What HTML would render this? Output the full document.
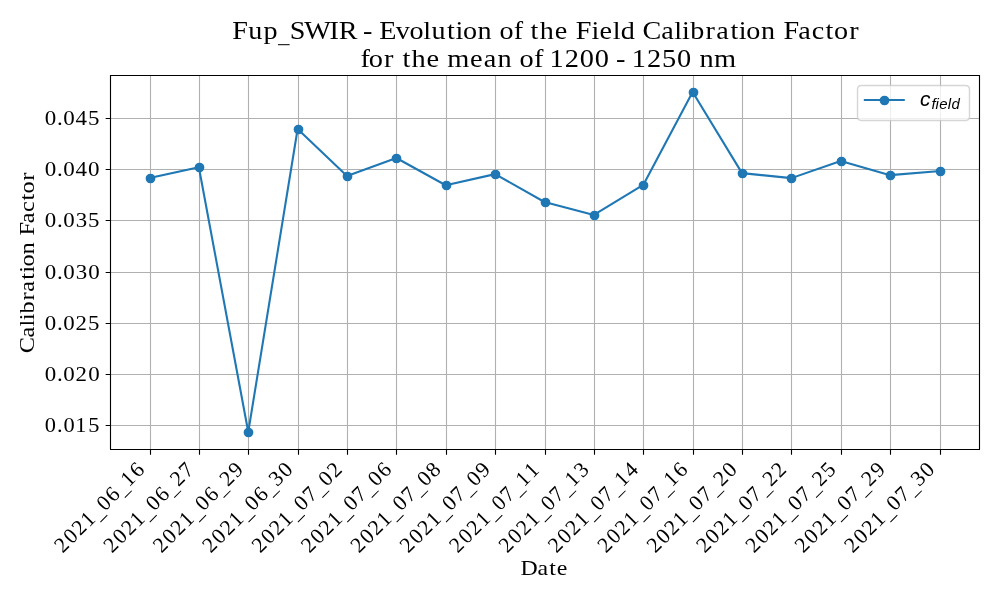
<!DOCTYPE html><html><head><meta charset="utf-8"><style>html,body{margin:0;padding:0;background:#fff;width:1000px;height:600px;overflow:hidden}svg{display:block;will-change:transform}text{font-kerning:none;font-family:"Liberation Serif",serif}</style></head><body>
<svg width="1000" height="600" viewBox="0 0 1000 600">
<rect x="0" y="0" width="1000" height="600" fill="#fff"/>
<path d="M150.5 75V449M199.5 75V449M248.5 75V449M298.5 75V449M347.5 75V449M396.5 75V449M446.5 75V449M495.5 75V449M545.5 75V449M594.5 75V449M643.5 75V449M693.5 75V449M742.5 75V449M791.5 75V449M841.5 75V449M890.5 75V449M940.5 75V449M110 118.5H979M110 169.5H979M110 220.5H979M110 272.5H979M110 323.5H979M110 374.5H979M110 425.5H979" stroke="#b0b0b0" stroke-width="1.111" fill="none"/>
<path d="M149.5 178.025L198.875 167.228L248.25 432L297.625 129.039L347 175.925L396.375 158.031L445.75 185.223L495.125 174.126L544.5 202.018L593.875 214.964L643.25 184.973L692.625 92L742 173.126L791.375 178.125L840.75 160.93L890.125 175.126L939.5 171.127" stroke="#1f77b4" stroke-width="2.083" fill="none" stroke-linejoin="round" stroke-linecap="square"/>
<g fill="#1f77b4" stroke="#1f77b4" stroke-width="1.389"><circle cx="150.5" cy="178.5" r="4.167"/><circle cx="199.5" cy="167.5" r="4.167"/><circle cx="248.5" cy="432.5" r="4.167"/><circle cx="298.5" cy="129.5" r="4.167"/><circle cx="347.5" cy="176.5" r="4.167"/><circle cx="396.5" cy="158.5" r="4.167"/><circle cx="446.5" cy="185.5" r="4.167"/><circle cx="495.5" cy="174.5" r="4.167"/><circle cx="545.5" cy="202.5" r="4.167"/><circle cx="594.5" cy="215.5" r="4.167"/><circle cx="643.5" cy="185.5" r="4.167"/><circle cx="693.5" cy="92.5" r="4.167"/><circle cx="742.5" cy="173.5" r="4.167"/><circle cx="791.5" cy="178.5" r="4.167"/><circle cx="841.5" cy="161.5" r="4.167"/><circle cx="890.5" cy="175.5" r="4.167"/><circle cx="940.5" cy="171.5" r="4.167"/></g>
<path d="M110.5 75V449.5M979.5 75V449.5M110 75.5H980M110 449.5H980" stroke="#000" stroke-width="1.111" fill="none"/>
<path d="M150.5 449.5V454.8M199.5 449.5V454.8M248.5 449.5V454.8M298.5 449.5V454.8M347.5 449.5V454.8M396.5 449.5V454.8M446.5 449.5V454.8M495.5 449.5V454.8M545.5 449.5V454.8M594.5 449.5V454.8M643.5 449.5V454.8M693.5 449.5V454.8M742.5 449.5V454.8M791.5 449.5V454.8M841.5 449.5V454.8M890.5 449.5V454.8M940.5 449.5V454.8M110.5 118.5H105.639M110.5 169.5H105.639M110.5 220.5H105.639M110.5 272.5H105.639M110.5 323.5H105.639M110.5 374.5H105.639M110.5 425.5H105.639" stroke="#000" stroke-width="1.111" fill="none"/>
<path d="M861.389 85.5H965.611Q969.5 85.5 969.5 89.389V116.611Q969.5 120.5 965.611 120.5H861.389Q857.5 120.5 857.5 116.611V89.389Q857.5 85.5 861.389 85.5z" fill="#fff" stroke="#ccc" stroke-width="1.389" opacity="0.8"/>
<path d="M864.843 100H903.732" stroke="#1f77b4" stroke-width="2.083" stroke-linecap="square"/>
<circle cx="884.5" cy="100.5" r="4.167" fill="#1f77b4" stroke="#1f77b4" stroke-width="1.389"/>
<g transform="translate(920.031 106.365)" style="font-family:'Liberation Sans',sans-serif;font-style:italic">
<text style="font-family:inherit" transform="translate(0 -0.217) scale(1.075 1.029)" x="-0.071" font-size="19.444">c</text>
<text style="font-family:inherit" transform="translate(10.691 2.973) scale(1.1 1.043)" x="0.603 4.426 7.79 15.488 18.843" font-size="13.611">field</text>
</g>
<g fill="#000">
<path transform="translate(62.425 554.11) rotate(-45)" d="M49.522 3.724h9.722v0.972h-9.722zM84.085 3.724h9.722v0.972h-9.722z"/><text transform="translate(62.425 554.11) rotate(-45) scale(1.11 1.116)" x="0.462 11.792 22.818 33.707 44.137 54.111 65.2 75.279 84.811 96.341" font-size="19.444" xml:space="preserve">2021 06 16</text>
<path transform="translate(111.8 554.11) rotate(-45)" d="M49.522 3.724h9.722v0.972h-9.722zM84.085 3.724h9.722v0.972h-9.722z"/><text transform="translate(111.8 554.11) rotate(-45) scale(1.12 1.116)" x="0.416 11.646 22.576 33.365 43.707 53.593 64.583 74.574 84.311 95.286" font-size="19.444" xml:space="preserve">2021 06 27</text>
<path transform="translate(161.175 554.11) rotate(-45)" d="M49.522 3.724h9.722v0.972h-9.722zM84.085 3.724h9.722v0.972h-9.722z"/><text transform="translate(161.175 554.11) rotate(-45) scale(1.12 1.116)" x="0.414 11.639 22.566 33.351 43.689 53.571 64.557 74.544 84.277 95.554" font-size="19.444" xml:space="preserve">2021 06 29</text>
<path transform="translate(210.55 554.11) rotate(-45)" d="M49.522 3.724h9.722v0.972h-9.722zM84.085 3.724h9.722v0.972h-9.722z"/><text transform="translate(210.55 554.11) rotate(-45) scale(1.121 1.116)" x="0.411 11.628 22.547 33.325 43.655 53.531 64.509 74.49 84.302 95.434" font-size="19.444" xml:space="preserve">2021 06 30</text>
<path transform="translate(259.925 554.11) rotate(-45)" d="M49.522 3.724h9.722v0.972h-9.722zM84.085 3.724h9.722v0.972h-9.722z"/><text transform="translate(259.925 554.11) rotate(-45) scale(1.12 1.116)" x="0.415 11.641 22.568 33.354 43.693 53.576 64.398 74.551 84.435 95.362" font-size="19.444" xml:space="preserve">2021 07 02</text>
<path transform="translate(309.3 554.11) rotate(-45)" d="M49.522 3.724h9.722v0.972h-9.722zM84.085 3.724h9.722v0.972h-9.722z"/><text transform="translate(309.3 554.11) rotate(-45) scale(1.122 1.116)" x="0.408 11.618 22.531 33.301 43.626 53.496 64.303 74.442 84.312 95.284" font-size="19.444" xml:space="preserve">2021 07 06</text>
<path transform="translate(358.675 554.11) rotate(-45)" d="M49.522 3.724h9.722v0.972h-9.722zM84.085 3.724h9.722v0.972h-9.722z"/><text transform="translate(358.675 554.11) rotate(-45) scale(1.121 1.116)" x="0.408 11.62 22.534 33.306 43.632 53.503 64.311 74.452 84.323 95.385" font-size="19.444" xml:space="preserve">2021 07 08</text>
<path transform="translate(408.05 554.11) rotate(-45)" d="M49.522 3.724h9.722v0.972h-9.722zM84.085 3.724h9.722v0.972h-9.722z"/><text transform="translate(408.05 554.11) rotate(-45) scale(1.122 1.116)" x="0.408 11.618 22.53 33.301 43.626 53.495 64.302 74.441 84.311 95.424" font-size="19.444" xml:space="preserve">2021 07 09</text>
<path transform="translate(457.425 554.11) rotate(-45)" d="M49.522 3.724h9.722v0.972h-9.722zM84.085 3.724h9.722v0.972h-9.722z"/><text transform="translate(457.425 554.11) rotate(-45) scale(1.097 1.116)" x="0.523 11.985 23.139 34.158 44.707 54.796 65.852 76.21 85.856 97.164" font-size="19.444" xml:space="preserve">2021 07 11</text>
<path transform="translate(506.8 554.11) rotate(-45)" d="M49.522 3.724h9.722v0.972h-9.722zM84.085 3.724h9.722v0.972h-9.722z"/><text transform="translate(506.8 554.11) rotate(-45) scale(1.108 1.116)" x="0.47 11.816 22.858 33.763 44.209 54.197 65.138 75.395 84.941 96.514" font-size="19.444" xml:space="preserve">2021 07 13</text>
<path transform="translate(556.175 554.11) rotate(-45)" d="M49.522 3.724h9.722v0.972h-9.722zM84.085 3.724h9.722v0.972h-9.722z"/><text transform="translate(556.175 554.11) rotate(-45) scale(1.111 1.116)" x="0.456 11.774 22.789 33.665 44.084 54.047 64.959 75.192 84.713 96.116" font-size="19.444" xml:space="preserve">2021 07 14</text>
<path transform="translate(605.55 554.11) rotate(-45)" d="M49.522 3.724h9.722v0.972h-9.722zM84.085 3.724h9.722v0.972h-9.722z"/><text transform="translate(605.55 554.11) rotate(-45) scale(1.109 1.116)" x="0.464 11.799 22.83 33.723 44.158 54.136 65.065 75.312 84.849 96.384" font-size="19.444" xml:space="preserve">2021 07 16</text>
<path transform="translate(654.925 554.11) rotate(-45)" d="M49.522 3.724h9.722v0.972h-9.722zM84.085 3.724h9.722v0.972h-9.722z"/><text transform="translate(654.925 554.11) rotate(-45) scale(1.12 1.116)" x="0.415 11.641 22.568 33.354 43.693 53.576 64.398 74.551 84.285 95.511" font-size="19.444" xml:space="preserve">2021 07 20</text>
<path transform="translate(704.3 554.11) rotate(-45)" d="M49.522 3.724h9.722v0.972h-9.722zM84.085 3.724h9.722v0.972h-9.722z"/><text transform="translate(704.3 554.11) rotate(-45) scale(1.118 1.116)" x="0.423 11.669 22.614 33.419 43.775 53.675 64.515 74.685 84.435 95.531" font-size="19.444" xml:space="preserve">2021 07 22</text>
<path transform="translate(753.675 554.11) rotate(-45)" d="M49.522 3.724h9.722v0.972h-9.722zM84.085 3.724h9.722v0.972h-9.722z"/><text transform="translate(753.675 554.11) rotate(-45) scale(1.119 1.116)" x="0.421 11.663 22.604 33.405 43.757 53.653 64.49 74.656 84.403 95.531" font-size="19.444" xml:space="preserve">2021 07 25</text>
<path transform="translate(803.05 554.11) rotate(-45)" d="M49.522 3.724h9.722v0.972h-9.722zM84.085 3.724h9.722v0.972h-9.722z"/><text transform="translate(803.05 554.11) rotate(-45) scale(1.12 1.116)" x="0.416 11.645 22.576 33.365 43.706 53.592 64.417 74.573 84.31 95.591" font-size="19.444" xml:space="preserve">2021 07 29</text>
<path transform="translate(852.425 554.11) rotate(-45)" d="M49.522 3.724h9.722v0.972h-9.722zM84.085 3.724h9.722v0.972h-9.722z"/><text transform="translate(852.425 554.11) rotate(-45) scale(1.121 1.116)" x="0.413 11.634 22.557 33.339 43.673 53.552 64.37 74.519 84.334 95.471" font-size="19.444" xml:space="preserve">2021 07 30</text>
<text transform="translate(100.008 432) scale(1.153 1.116)" x="-47.839 -37.324 -31.702 -21.377 -10.296" font-size="19.444">0.015</text>
<text transform="translate(100.008 381) scale(1.179 1.116)" x="-46.874 -36.54 -31.099 -20.716 -10.061" font-size="19.444">0.020</text>
<text transform="translate(100.008 330) scale(1.177 1.116)" x="-46.975 -36.622 -31.162 -20.755 -10.19" font-size="19.444">0.025</text>
<text transform="translate(100.008 279) scale(1.18 1.116)" x="-46.849 -36.521 -31.084 -20.636 -10.058" font-size="19.444">0.030</text>
<text transform="translate(100.008 227) scale(1.177 1.116)" x="-46.95 -36.602 -31.147 -20.674 -10.187" font-size="19.444">0.035</text>
<text transform="translate(100.008 176) scale(1.185 1.116)" x="-46.691 -36.392 -30.985 -20.706 -10.039" font-size="19.444">0.040</text>
<text transform="translate(100.008 125) scale(1.182 1.116)" x="-46.786 -36.469 -31.045 -20.742 -10.167" font-size="19.444">0.045</text>
<text transform="translate(544.72 575.232) scale(1.228 1.119)" x="-19.646 -5.968 3.739 9.837" font-size="19.444">Date</text>
<text transform="translate(33.833 262.55) rotate(-90) scale(1.251 1.089)" x="-72.578 -59.944 -51.151 -46.075 -40.64 -30.33 -23.252 -13.689 -8.104 -3.173 6.53 6.53 21.55 31.383 40.396 49.677 55.207 65.426" font-size="19.444" xml:space="preserve">Calibration Factor</text>
<path transform="translate(233 39)" d="M44.949 5.17h11.667v1.027h-11.667z"/><text transform="translate(233 39) scale(1.207 1.109)" x="-0.637 12.703 25.248 36.227 47.087 59.123 79.992 87.659 87.659 107.819 107.819 121.078 134.848 146.196 157.712 164.401 177.333 184.267 190.485 202.541 202.541 220.764 232.702 232.702 246.559 254.05 266.498 266.498 284.05 297.008 303.735 314.543 321.167 321.167 339.182 354.796 365.638 371.944 378.772 391.528 400.37 412.172 419.107 425.325 437.38 437.38 456.053 468.251 479.44 490.896 497.857 510.485" font-size="23.333" xml:space="preserve">Fup SWIR - Evolution of the Field Calibration Factor</text>
<text transform="translate(361 67) scale(1.217 1.109)" x="-0.466 6.352 18.896 18.896 34.039 41.453 53.808 53.808 70.877 89.499 100.916 112.206 112.206 130.289 142.147 142.147 154.886 167.466 179.842 192.064 192.064 209.474 209.474 222.478 235.058 247.292 259.656 259.656 278.053 290.133" font-size="23.333" xml:space="preserve">for the mean of 1200 - 1250 nm</text>
</g>
</svg></body></html>
